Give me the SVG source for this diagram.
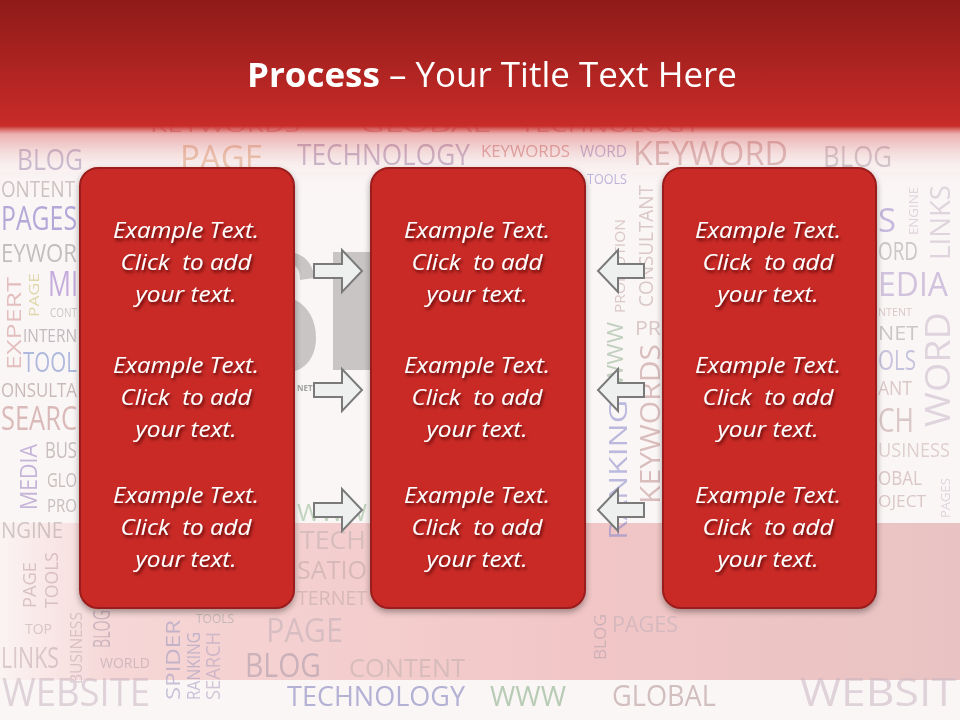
<svg xmlns="http://www.w3.org/2000/svg" width="960" height="720" viewBox="0 0 960 720">
<style>
.w{font-family:"Open Sans","Liberation Sans",sans-serif;}
.wb{font-family:"Open Sans","Liberation Sans",sans-serif;font-weight:bold;}
.box{fill:#c92a27;stroke:#9a1d1c;stroke-width:2;filter:url(#bs);}
.bt{font-family:"Open Sans","Liberation Sans",sans-serif;font-style:italic;font-size:22px;fill:#ffffff;text-anchor:middle;filter:url(#ts);}
.arr{fill:#eef0f0;stroke:#7a7a7a;stroke-width:2;stroke-linejoin:miter;}
</style>
<defs>
<linearGradient id="top" x1="0" y1="0" x2="0" y2="1">
<stop offset="0" stop-color="#8f1b19"/>
<stop offset="0.58" stop-color="#c42a27"/>
<stop offset="0.63" stop-color="#c82c29"/>
<stop offset="0.67" stop-color="#d65a58" stop-opacity="0.45"/>
<stop offset="0.82" stop-color="#f2d6d6" stop-opacity="0.25"/>
<stop offset="1" stop-color="#ffffff" stop-opacity="0"/>
</linearGradient>
<linearGradient id="band" x1="0" y1="0" x2="1" y2="0">
<stop offset="0" stop-color="#fbf3f3"/>
<stop offset="0.12" stop-color="#f6d6d6"/>
<stop offset="0.6" stop-color="#f2c6c6"/>
<stop offset="1" stop-color="#e9c3c3"/>
</linearGradient>
<filter id="bs" x="-20%" y="-20%" width="140%" height="140%">
<feDropShadow dx="0" dy="3" stdDeviation="3" flood-color="#000" flood-opacity="0.35"/>
</filter>
<filter id="ts" x="-20%" y="-40%" width="140%" height="180%">
<feDropShadow dx="1.5" dy="2.5" stdDeviation="1.5" flood-color="#4a0606" flood-opacity="0.85"/>
</filter>
<path id="ra" d="M0,-7 H28 V-21 L48,0 L28,21 V7 H0 Z"/>
<path id="la" d="M0,-7 H-26 V-21 L-46,0 L-26,21 V7 H0 Z"/>
</defs>

<g id="background">
<rect x="0" y="0" width="960" height="720" fill="#fbf6f6"/>
<rect x="0" y="523" width="960" height="157" fill="url(#band)"/>
<g id="wordcloud" class="w" opacity="0.55">
<text x="150" y="132" font-size="20" fill="#c06060" textLength="150" lengthAdjust="spacingAndGlyphs">KEYWORDS</text>
<text x="360" y="132" font-size="20" fill="#c06060" textLength="130" lengthAdjust="spacingAndGlyphs">GLOBAL</text>
<text x="520" y="132" font-size="20" fill="#c06060" textLength="180" lengthAdjust="spacingAndGlyphs">TECHNOLOGY</text>
<text x="17" y="170" font-size="30" fill="#8a78a8" textLength="66" lengthAdjust="spacingAndGlyphs">BLOG</text>
<text x="180" y="170" font-size="34" fill="#d89060" textLength="83" lengthAdjust="spacingAndGlyphs">PAGE</text>
<text x="297" y="165" font-size="30" fill="#8a6a9a" textLength="173" lengthAdjust="spacingAndGlyphs">TECHNOLOGY</text>
<text x="481" y="157" font-size="16" fill="#c05050" textLength="89" lengthAdjust="spacingAndGlyphs">KEYWORDS</text>
<text x="580" y="157" font-size="16" fill="#8060a8" textLength="47" lengthAdjust="spacingAndGlyphs">WORD</text>
<text x="633" y="165" font-size="32" fill="#b87878" textLength="155" lengthAdjust="spacingAndGlyphs">KEYWORD</text>
<text x="823" y="167" font-size="30" fill="#a090a0" textLength="69" lengthAdjust="spacingAndGlyphs">BLOG</text>
<text x="587" y="184" font-size="14" fill="#7a70c0" textLength="40" lengthAdjust="spacingAndGlyphs">TOOLS</text>
<text x="1" y="197" font-size="22" fill="#a09090" textLength="74" lengthAdjust="spacingAndGlyphs">ONTENT</text>
<text x="1" y="230" font-size="32" fill="#7a68c0" textLength="76" lengthAdjust="spacingAndGlyphs">PAGES</text>
<text x="1" y="262" font-size="26" fill="#909090" textLength="76" lengthAdjust="spacingAndGlyphs">EYWOR</text>
<text x="48" y="296" font-size="34" fill="#9a70c8" textLength="30" lengthAdjust="spacingAndGlyphs">MI</text>
<text x="50" y="317" font-size="12" fill="#a0a0a0" textLength="27" lengthAdjust="spacingAndGlyphs">CONT</text>
<text x="23" y="342" font-size="18" fill="#908890" textLength="54" lengthAdjust="spacingAndGlyphs">INTERN</text>
<text x="23" y="372" font-size="28" fill="#7088c8" textLength="54" lengthAdjust="spacingAndGlyphs">TOOL</text>
<text x="1" y="397" font-size="20" fill="#a08888" textLength="76" lengthAdjust="spacingAndGlyphs">ONSULTA</text>
<text x="1" y="430" font-size="32" fill="#c08888" textLength="76" lengthAdjust="spacingAndGlyphs">SEARC</text>
<text x="45" y="458" font-size="22" fill="#a09090" textLength="32" lengthAdjust="spacingAndGlyphs">BUS</text>
<text x="47" y="487" font-size="20" fill="#a09090" textLength="30" lengthAdjust="spacingAndGlyphs">GLO</text>
<text x="47" y="512" font-size="18" fill="#a09090" textLength="30" lengthAdjust="spacingAndGlyphs">PRO</text>
<text x="1" y="538" font-size="22" fill="#b0a0a0" textLength="62" lengthAdjust="spacingAndGlyphs">NGINE</text>
<text transform="translate(21,370) rotate(-90)" font-size="20" fill="#d09090" textLength="93" lengthAdjust="spacingAndGlyphs">EXPERT</text>
<text transform="translate(39,317) rotate(-90)" font-size="14" fill="#c8c070" textLength="44" lengthAdjust="spacingAndGlyphs">PAGE</text>
<text transform="translate(37,510) rotate(-90)" font-size="24" fill="#9a80c0" textLength="66" lengthAdjust="spacingAndGlyphs">MEDIA</text>
<text transform="translate(58,608) rotate(-90)" font-size="18" fill="#c0a0a0" textLength="56" lengthAdjust="spacingAndGlyphs">TOOLS</text>
<text transform="translate(36,608) rotate(-90)" font-size="18" fill="#c0a0a0" textLength="46" lengthAdjust="spacingAndGlyphs">PAGE</text>
<text x="25" y="634" font-size="14" fill="#c0a8a8">TOP</text>
<text x="1" y="668" font-size="30" fill="#c0a8b0" textLength="58" lengthAdjust="spacingAndGlyphs">LINKS</text>
<text transform="translate(82,684) rotate(-90)" font-size="16" fill="#c0a8a8" textLength="72" lengthAdjust="spacingAndGlyphs">BUSINESS</text>
<text transform="translate(110,648) rotate(-90)" font-size="24" fill="#a898a8" textLength="38" lengthAdjust="spacingAndGlyphs">BLOG</text>
<text x="100" y="668" font-size="14" fill="#b0a0a8" textLength="50" lengthAdjust="spacingAndGlyphs">WORLD</text>
<text transform="translate(180,700) rotate(-90)" font-size="20" fill="#9a98c0" textLength="80" lengthAdjust="spacingAndGlyphs">SPIDER</text>
<text transform="translate(200,700) rotate(-90)" font-size="18" fill="#9a98c0" textLength="68" lengthAdjust="spacingAndGlyphs">RANKING</text>
<text transform="translate(220,700) rotate(-90)" font-size="20" fill="#b0a0c0" textLength="68" lengthAdjust="spacingAndGlyphs">SEARCH</text>
<text x="196" y="623" font-size="12" fill="#a0a0a0" textLength="38" lengthAdjust="spacingAndGlyphs">TOOLS</text>
<text x="266" y="642" font-size="32" fill="#c0b0b8" textLength="77" lengthAdjust="spacingAndGlyphs">PAGE</text>
<text x="245" y="677" font-size="32" fill="#a898a8" textLength="76" lengthAdjust="spacingAndGlyphs">BLOG</text>
<text x="349" y="677" font-size="26" fill="#c0b0b0" textLength="116" lengthAdjust="spacingAndGlyphs">CONTENT</text>
<text x="612" y="632" font-size="22" fill="#c0b0b8" textLength="66" lengthAdjust="spacingAndGlyphs">PAGES</text>
<text transform="translate(606,660) rotate(-90)" font-size="16" fill="#b0a0b0" textLength="46" lengthAdjust="spacingAndGlyphs">BLOG</text>
<text x="2" y="706" font-size="38" fill="#c8b4c0" textLength="148" lengthAdjust="spacingAndGlyphs">WEBSITE</text>
<text x="287" y="706" font-size="28" fill="#7878b8" textLength="178" lengthAdjust="spacingAndGlyphs">TECHNOLOGY</text>
<text x="490" y="706" font-size="28" fill="#80a880" textLength="76" lengthAdjust="spacingAndGlyphs">WWW</text>
<text x="612" y="706" font-size="30" fill="#b09090" textLength="104" lengthAdjust="spacingAndGlyphs">GLOBAL</text>
<text x="800" y="706" font-size="38" fill="#c8b4c0" textLength="156" lengthAdjust="spacingAndGlyphs">WEBSIT</text>
<text x="297" y="521" font-size="24" fill="#90b890" textLength="70" lengthAdjust="spacingAndGlyphs">WWW</text>
<text x="300" y="549" font-size="26" fill="#c0b0b0" textLength="66" lengthAdjust="spacingAndGlyphs">TECH</text>
<text x="297" y="579" font-size="26" fill="#c0a8a8" textLength="70" lengthAdjust="spacingAndGlyphs">SATIO</text>
<text x="297" y="605" font-size="20" fill="#c0a8a8" textLength="70" lengthAdjust="spacingAndGlyphs">TERNET</text>
<text transform="translate(653,307) rotate(-90)" font-size="20" fill="#c0a0a0" textLength="122" lengthAdjust="spacingAndGlyphs">CONSULTANT</text>
<text transform="translate(625,313) rotate(-90)" font-size="14" fill="#c0a0a0" textLength="94" lengthAdjust="spacingAndGlyphs">PROMOTION</text>
<text transform="translate(623,386) rotate(-90)" font-size="22" fill="#90b090" textLength="64" lengthAdjust="spacingAndGlyphs">WWW</text>
<text x="635" y="335" font-size="20" fill="#c0a0a0" textLength="26" lengthAdjust="spacingAndGlyphs">PR</text>
<text transform="translate(660,504) rotate(-90)" font-size="28" fill="#c09090" textLength="160" lengthAdjust="spacingAndGlyphs">KEYWORDS</text>
<text transform="translate(627,540) rotate(-90)" font-size="26" fill="#8888c8" textLength="140" lengthAdjust="spacingAndGlyphs">RANKING</text>
<text x="878" y="232" font-size="32" fill="#9a88c8" textLength="18" lengthAdjust="spacingAndGlyphs">S</text>
<text x="878" y="260" font-size="26" fill="#a0a0a0" textLength="40" lengthAdjust="spacingAndGlyphs">ORD</text>
<text x="878" y="296" font-size="32" fill="#b098c8" textLength="70" lengthAdjust="spacingAndGlyphs">EDIA</text>
<text x="878" y="316" font-size="11" fill="#c0a0a0" textLength="34" lengthAdjust="spacingAndGlyphs">NTENT</text>
<text x="878" y="340" font-size="20" fill="#a0a0a0" textLength="40" lengthAdjust="spacingAndGlyphs">NET</text>
<text x="878" y="370" font-size="28" fill="#9a98c8" textLength="38" lengthAdjust="spacingAndGlyphs">OLS</text>
<text x="878" y="395" font-size="20" fill="#c0a0a0" textLength="34" lengthAdjust="spacingAndGlyphs">ANT</text>
<text x="878" y="432" font-size="32" fill="#c0a0a0" textLength="36" lengthAdjust="spacingAndGlyphs">CH</text>
<text x="878" y="457" font-size="20" fill="#c8b0b0" textLength="72" lengthAdjust="spacingAndGlyphs">USINESS</text>
<text x="878" y="485" font-size="20" fill="#c0a0a0" textLength="44" lengthAdjust="spacingAndGlyphs">OBAL</text>
<text x="878" y="507" font-size="16" fill="#c0a0a0" textLength="48" lengthAdjust="spacingAndGlyphs">OJECT</text>
<text transform="translate(950,427) rotate(-90)" font-size="34" fill="#c8b8c8" textLength="115" lengthAdjust="spacingAndGlyphs">WORD</text>
<text transform="translate(950,260) rotate(-90)" font-size="28" fill="#c8b8c8" textLength="75" lengthAdjust="spacingAndGlyphs">LINKS</text>
<text transform="translate(918,235) rotate(-90)" font-size="13" fill="#c8b8c8" textLength="48" lengthAdjust="spacingAndGlyphs">ENGINE</text>
<text transform="translate(950,518) rotate(-90)" font-size="12" fill="#c8b8c8" textLength="40" lengthAdjust="spacingAndGlyphs">PAGES</text>
</g>
<g id="seo" fill="#c9c5c5">
<path d="M295,253 C306,256 314,266 314,278 L300,280 C300,272 298,268 295,266 Z"/>
<path d="M295,300 C308,306 316,320 316,338 C316,356 306,368 295,371 Z"/>
<rect x="333" y="252" width="40" height="118"/>
<text x="297" y="391" class="wb" font-size="8" fill="#a0a0a0">NET</text>
</g>
<rect x="0" y="0" width="960" height="200" fill="url(#top)"/>
</g>

<text id="title" x="492" y="87" class="w" font-size="34" fill="#ffffff" text-anchor="middle" textLength="490" lengthAdjust="spacingAndGlyphs"><tspan font-weight="bold">Process</tspan> – Your Title Text Here</text>

<g id="box1">
<rect class="box" x="80" y="168" width="214" height="440" rx="18" ry="18"/>
<text class="bt" x="186" y="238" textLength="146" lengthAdjust="spacingAndGlyphs">Example Text.</text>
<text class="bt" x="186" y="270" textLength="131" lengthAdjust="spacingAndGlyphs" xml:space="preserve">Click  to add</text>
<text class="bt" x="186" y="302" textLength="101" lengthAdjust="spacingAndGlyphs">your text.</text>
<text class="bt" x="186" y="373" textLength="146" lengthAdjust="spacingAndGlyphs">Example Text.</text>
<text class="bt" x="186" y="405" textLength="131" lengthAdjust="spacingAndGlyphs" xml:space="preserve">Click  to add</text>
<text class="bt" x="186" y="437" textLength="101" lengthAdjust="spacingAndGlyphs">your text.</text>
<text class="bt" x="186" y="503" textLength="146" lengthAdjust="spacingAndGlyphs">Example Text.</text>
<text class="bt" x="186" y="535" textLength="131" lengthAdjust="spacingAndGlyphs" xml:space="preserve">Click  to add</text>
<text class="bt" x="186" y="567" textLength="101" lengthAdjust="spacingAndGlyphs">your text.</text>
</g>

<g id="box2">
<rect class="box" x="371" y="168" width="214" height="440" rx="18" ry="18"/>
<text class="bt" x="477" y="238" textLength="146" lengthAdjust="spacingAndGlyphs">Example Text.</text>
<text class="bt" x="477" y="270" textLength="131" lengthAdjust="spacingAndGlyphs" xml:space="preserve">Click  to add</text>
<text class="bt" x="477" y="302" textLength="101" lengthAdjust="spacingAndGlyphs">your text.</text>
<text class="bt" x="477" y="373" textLength="146" lengthAdjust="spacingAndGlyphs">Example Text.</text>
<text class="bt" x="477" y="405" textLength="131" lengthAdjust="spacingAndGlyphs" xml:space="preserve">Click  to add</text>
<text class="bt" x="477" y="437" textLength="101" lengthAdjust="spacingAndGlyphs">your text.</text>
<text class="bt" x="477" y="503" textLength="146" lengthAdjust="spacingAndGlyphs">Example Text.</text>
<text class="bt" x="477" y="535" textLength="131" lengthAdjust="spacingAndGlyphs" xml:space="preserve">Click  to add</text>
<text class="bt" x="477" y="567" textLength="101" lengthAdjust="spacingAndGlyphs">your text.</text>
</g>

<g id="box3">
<rect class="box" x="663" y="168" width="213" height="440" rx="18" ry="18"/>
<text class="bt" x="768" y="238" textLength="146" lengthAdjust="spacingAndGlyphs">Example Text.</text>
<text class="bt" x="768" y="270" textLength="131" lengthAdjust="spacingAndGlyphs" xml:space="preserve">Click  to add</text>
<text class="bt" x="768" y="302" textLength="101" lengthAdjust="spacingAndGlyphs">your text.</text>
<text class="bt" x="768" y="373" textLength="146" lengthAdjust="spacingAndGlyphs">Example Text.</text>
<text class="bt" x="768" y="405" textLength="131" lengthAdjust="spacingAndGlyphs" xml:space="preserve">Click  to add</text>
<text class="bt" x="768" y="437" textLength="101" lengthAdjust="spacingAndGlyphs">your text.</text>
<text class="bt" x="768" y="503" textLength="146" lengthAdjust="spacingAndGlyphs">Example Text.</text>
<text class="bt" x="768" y="535" textLength="131" lengthAdjust="spacingAndGlyphs" xml:space="preserve">Click  to add</text>
<text class="bt" x="768" y="567" textLength="101" lengthAdjust="spacingAndGlyphs">your text.</text>
</g>

<g id="connectors">
<use href="#ra" class="arr" x="314" y="271"/>
<use href="#ra" class="arr" x="314" y="390"/>
<use href="#ra" class="arr" x="314" y="510"/>
<use href="#la" class="arr" x="644" y="271"/>
<use href="#la" class="arr" x="644" y="390"/>
<use href="#la" class="arr" x="644" y="510"/>
</g>
</svg>
